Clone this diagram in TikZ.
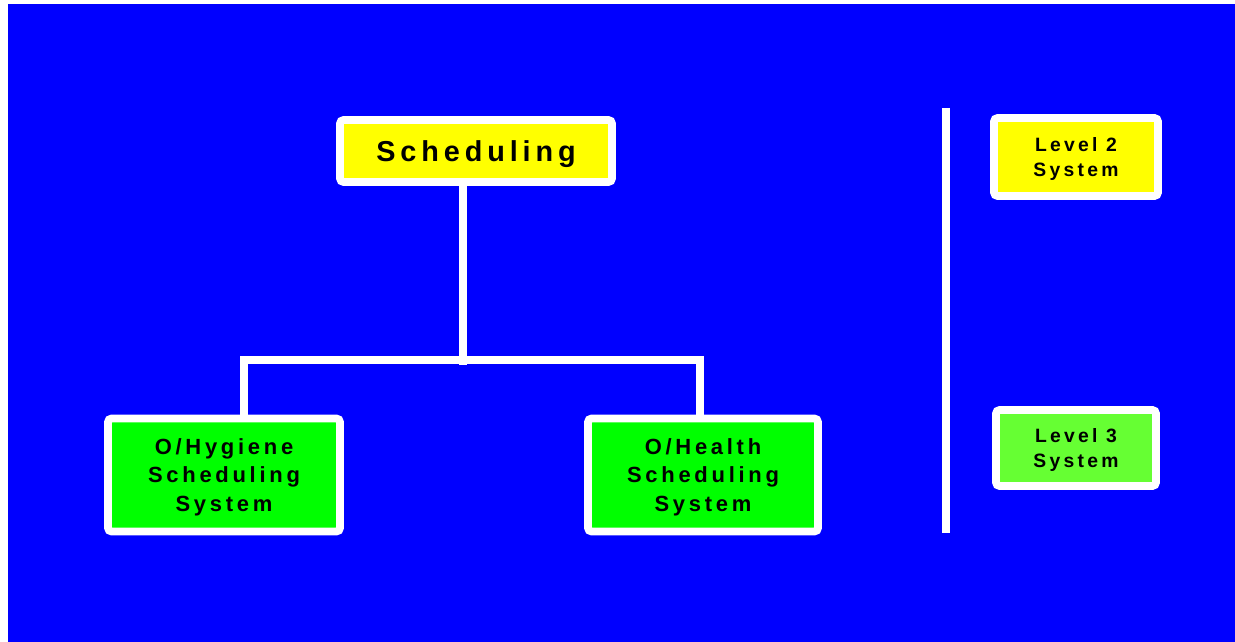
\documentclass[tikz,border=0pt]{standalone}
\usepackage{fontspec}
\usepackage{tikz}
\usetikzlibrary{positioning}
\newfontfamily\boxfont[LetterSpace=17]{Liberation Sans}

\definecolor{slide}{HTML}{0000FF}
\definecolor{lvltwo}{HTML}{FFFF00}
\definecolor{lvlthree}{HTML}{00FF00}
\definecolor{lvlkey}{HTML}{66FF33}

\tikzset{
    box/.style={draw=white, line width=4.4pt, rounded corners=2pt, inner sep=0pt, text depth=0pt, align=center, text=black},
    tree/.style={draw=white, line width=4pt, line join=miter}
}

\begin{document}
\begin{tikzpicture}[x=0.02cm, y=-0.02cm]
        \useasboundingbox (0,0) rectangle (1235,642);
        \fill[slide] (8,4) rectangle (1235,642);

        % top of the tree
        \node[box, fill=lvltwo, minimum width=5.44cm, minimum height=1.24cm,
              font=\boxfont\bfseries\fontsize{16.4}{19}\selectfont] (sched) at (476,151) {Scheduling};

        % the two subsystems
        \node[box, fill=lvlthree, minimum width=4.64cm, minimum height=2.26cm,
              font=\boxfont\bfseries\fontsize{12.5}{16}\selectfont] (hygiene) at (224,475) {O/Hygiene\\Scheduling\\System};
        \node[box, fill=lvlthree, minimum width=4.6cm, minimum height=2.26cm,
              font=\boxfont\bfseries\fontsize{12.5}{16}\selectfont] (health) at (703,475) {O/Health\\Scheduling\\System};

        % key on the right
        \node[box, fill=lvltwo, minimum width=3.28cm, minimum height=1.56cm,
              font=\boxfont\bfseries\fontsize{11}{14.6}\selectfont] (keytwo) at (1076,157) {Level 2\\System};
        \node[box, fill=lvlkey, minimum width=3.2cm, minimum height=1.52cm,
              font=\boxfont\bfseries\fontsize{11}{14.6}\selectfont] (keythree) at (1076,448) {Level 3\\System};

        % connectors
        \coordinate (split) at (463,360);
        \coordinate (lt) at (244,360);
        \coordinate (rt) at (700,360);
        \draw[tree] (sched.south -| split) -- ([yshift=-0.1cm]split);
        \draw[tree] (lt |- hygiene.north) -- (lt) -- (rt) -- (rt |- health.north);

        % divider
        \coordinate (divtop) at (946,108);
        \coordinate (divbot) at (946,533);
        \draw[white, line width=4.5pt] (divtop) -- (divbot);
\end{tikzpicture}
\end{document}
